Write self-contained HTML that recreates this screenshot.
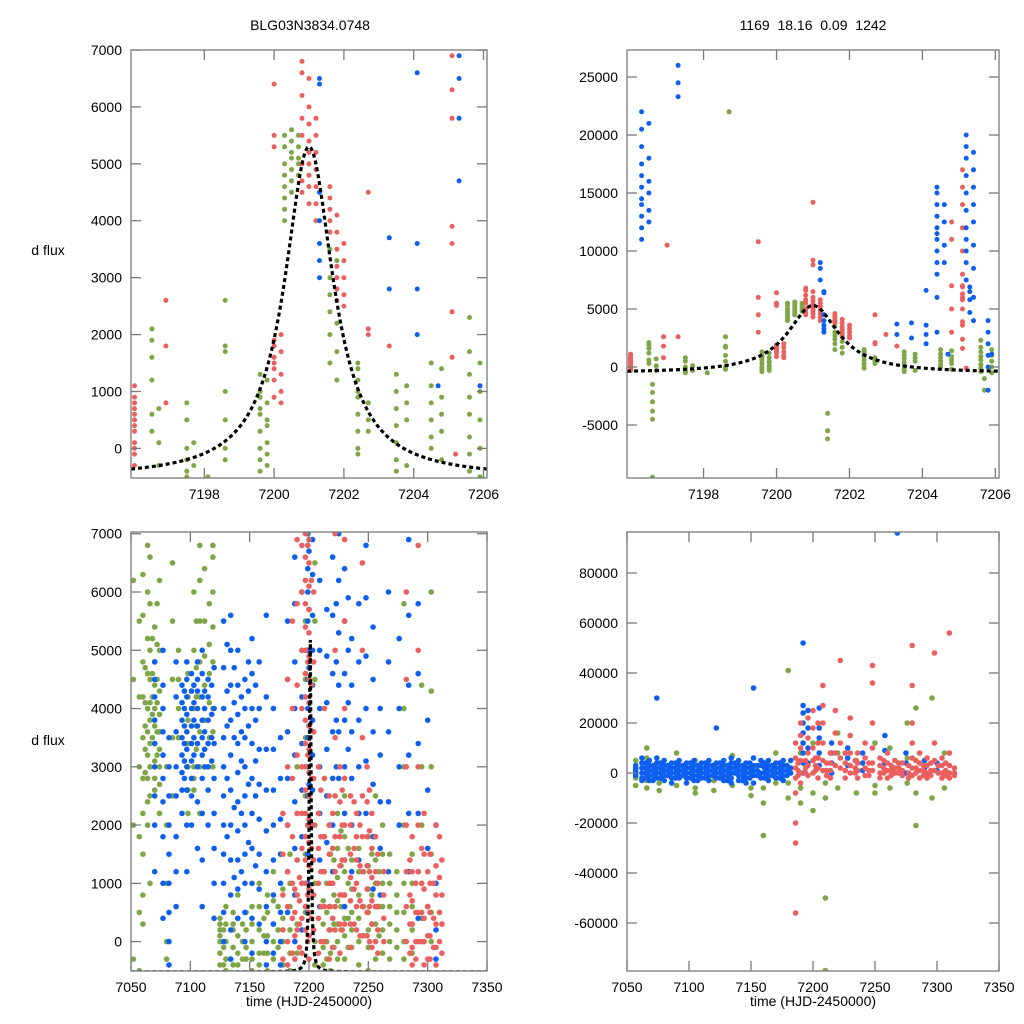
<!DOCTYPE html>
<html><head><meta charset="utf-8"><style>
body{margin:0;background:#fff;}
svg{display:block;font-family:"Liberation Sans",sans-serif;}
</style></head><body>
<svg id="c" width="1024" height="1024" viewBox="0 0 1024 1024">
<text x="310" y="30" text-anchor="middle" font-size="14">BLG03N3834.0748</text>
<text x="813" y="30" text-anchor="middle" font-size="14" xml:space="preserve">1169  18.16  0.09  1242</text>
<text x="48" y="255" text-anchor="middle" font-size="14">d flux</text>
<text x="48" y="745" text-anchor="middle" font-size="14">d flux</text>
<text x="309" y="1006" text-anchor="middle" font-size="14">time (HJD-2450000)</text>
<text x="813" y="1006" text-anchor="middle" font-size="14">time (HJD-2450000)</text>
</svg>
<script>
// ---- data (t:y-values; units per panel) ----
const tlGreen = "7196.5:21 19 16 12 6 3|7196.7:-3 7 1|7197.5:8 5 0 -2 -4 -5|7197.7:-3 1|7198.6:26 18 17 10 5 0 -2|7198.1:-5|7199.6:13 9 6 3 0 -2 -4 10 7|7199.8:12 8 4 -1 -3 1 5|7200.3:40 44 48 50 53 55 46 42|7200.5:47 51 54 56 52 49 45|7200.7:50 53 55 51 48|7201.6:38 35 30 27 24 20 15|7201.8:33 28 22 17 12|7202.4:15 12 9 6 3 0 -1 14 10|7202.7:8 5 3|7203.5:13 10 7 4 1 -2 -4|7203.8:11 8 5 -3|7204.5:15 11 8 5 2 0|7204.8:14 9 6 3 -2|7205.6:23 17 13 9 6 2 -1 -4|7205.9:15 10 5 0 -5";
const tlRed = "7196:11 9 7 5 3 1 -1 -3 0 4 6 8|7196.9:26 18 8|7200:14 16 18 19 15 12 9 64 55 53|7200.2:17 13 10 8 20|7200.8:68 66 62 58 55 50 47 45|7201:65 60 57 54 52 50 48 46 43|7201.2:58 55 52 49 46 43 40|7201.6:46 44 42 40 38|7201.8:41 38 35 32 30 28 26|7202:36 33 30 27 25|7202.7:45 21 20|7203.3:18|7205.1:69 63 58 39 36 24 16|7205.2:-1";
const tlBlue = "7201.3:65 64 45 40 36 33 30|7203.3:37 28|7204.1:66 36 28 20|7204.7:11|7205.3:69 65 58 47|7205.9:11";
const trBlueX = "7196.3:220 205 190 175 165 155 145 140 130 120 110|7196.5:210 180 160 150 135 125|7197.3:275 260 245 233|7201.2:90 85 75|7203.7:38 25|7204.4:155 150 140 130 120 115 110 100 90 80 60 30|7204.6:140 125 105 90|7205.2:200 190 180 165 150 135 120 110 100 90 75|7205.4:185 170 155 140 125 105 85 60 40|7205.8:40 30 20 10 0 -20";
const trRedX = "7197:105|7197.3:26|7199.5:108 60 45 30|7201:142 92 88|7204.8:125 110 70 50 30|7205.1:170 155 140 120 100 80 70 60 50|7203:28";
const trGreenX = "7196.6:-95 -45 -38 -30 -22 -15|7198.7:220|7201.4:-62 -55 -40|7205.7:-20 -10";
const blGreen = "7052:62 45 20 -3|7057:55 42 30 18 5 -5|7060:63 56 48 42 35 28 22 15 8 3|7064:68 60 52 46 40 36 32 28 24 20|7066:66 58 50 45 41 38 34 30 25 10|7070:54 48 44 40 37 34 31 28 26|7074:62 50 43 39 36 33 30 27 22|7080:30 20 10 0 -3|7085:65 55 45 35 25|7090:50 45 40 35|7098:46 42 38 34 30 26 22|7103:60 50 44 40 35 30 28 26|7108:68 62 55 48 42 36 30 22|7112:64 55 49 44 38 33|7119:68 66 60 54 48 40 36 30|7125:4 2 0 -2 -4 1 3|7130:6 3 0 -3 -5|7136:5 2 -1 -4 3|7140:8 4 1 -2 -4|7147:5 2 -1 -3|7152:6 3 0 -3 -5|7158:10 6 2 -2 -4|7165:8 5 1 -2 -5|7170:12 7 3 0 -3|7178:9 4 0 -4|7184:15 10 6 2 -2 -5|7190:30 22 14 8 3 -2|7197:55 45 35 25 15 5|7205:65 55 45 20 10 0 -4|7212:18 12 7 3 -1 -4|7218:20 15 10 6 2 -2 -5|7224:22 16 11 7 3 0 -3|7230:25 18 12 8 4 1 -3|7236:20 14 9 5 2 -1|7242:16 12 8 4 0 -4|7250:18 13 9 5 2 -1 -5|7256:25 18 14 10 6 3 0 -3|7262:20 15 10 6 2 -2|7268:15 10 6 3 0 -3|7274:12 8 5 2 -1|7280:58 40 30 20 10 5 0 -3|7287:15 10 6 2 -2|7295:44 30 20 10 4 0|7303:60 43 30 15 5 0|7062:47 41 37 33 29|7068:52 46 42 39 35|7072:58 51 45 41 36 32|7105:55 47 42 37 33|7116:58 51 46 41 35|7128:2 -1 -4|7144:3 0 -3|7162:4 1 -2|7174:6 2 -1|7215:10 5 0 -3|7221:14 8 3 -1|7227:19 13 6 2|7233:16 10 4 -1|7246:12 6 1|7253:15 8 3|7259:12 6 1";
const blBlue = "7070:48 45 42 38 34 30 25 20 12|7077:50 44 40 36 32 28 24 18 10 4|7082:35 30 25 20 15 10 5 0 -4|7088:48 42 36 30 25 18 12 6|7093:44 41 38 35 32 29 26 22|7097:48 45 42 39 36 33 30 26 20 12|7101:46 43 40 37 34 31 28 25 20|7106:48 45 43 40 37 34 30 24 16|7110:50 46 42 38 35 32 28 22 14 6|7115:45 42 38 34 30 26 20|7120:47 40 34 28 22 16 10 4|7128:55 47 40 35 30 25 20 15 10 5 0|7134:56 50 44 38 32 26 20 14 8 2 -3|7140:50 44 39 34 29 24 19 14 9 4|7146:45 40 35 30 25 20 15 10 5 0|7152:52 46 40 34 28 22 16 10 4 -2|7158:48 40 33 27 21 15 9 3|7164:56 42 33 26 19 12 6 0 -4|7170:40 33 26 20 14 8 3 -2|7176:35 28 21 15 10 5 0 -4|7182:55 45 36 28 20 12 5|7188:66 58 48 40 32 24 16 8 0|7194:60 50 42 34 26 18 10 2|7199:70 68 64 60 55 50 45 40 35 30 25 20 15 10 5|7203:69 63 56 50 44 38 32 26 20|7209:62 50 40 30 22 14 6|7215:57 49 41 33 25 17|7220:66 56 46 36 28 20 12 4|7225:70 62 53 44 36 28|7230:64 55 46 38 30 22 14 6|7236:52 44 36 28 20 12|7242:58 48 38 30 22 14|7248:68 59 49 40 31 22|7254:54 45 36 27 18 9|7260:40 32 24 16 8|7267:60 48 36 24 12|7276:52 40 30 20|7284:69 56 44 32 22 12|7292:58 46 34 22 12 4|7300:38 26 16 6|7307:20 10 2 -3|7095:43 40 37 34 31 28|7103:44 41 38 35 32|7112:43 40 36 33 30|7118:44 39 35 31|7131:51 43 37 28 18|7137:47 41 35 23 11|7143:42 36 31 22 12|7149:48 43 37 27 17|7155:44 38 31 25 13|7200:67 57 47 37 27|7223:58 48 38 30|7233:59 50 41 33";
const blRed = "7178:22 15 8 2 -3|7182:45 30 20 12 6 0 -4|7186:55 40 28 18 10 4 -2|7190:69 58 44 32 22 14 8 2|7194:68 60 50 40 30 22 16 10 4 -2|7197:70 66 62 58 54 50 46 42 38 34 30 26 22 18 14 10 6 2|7200:69 65 61 57 53 49 45 41 37 33 29 25 21 17 13 9 5 1 -3|7204:60 48 36 28 20 14 8 2|7208:30 22 16 10 4 -2|7213:40 28 18 12 6 0|7217:25 20 15 10 6 2 -3|7222:70 50 35 25 18 12 6 2|7226:30 24 18 13 8 3 -2|7230:69 55 40 28 20 14 8 3|7235:25 20 15 11 7 3 -1|7240:22 18 14 10 6 2|7245:65 50 35 25 18 12 6 1|7249:30 24 18 13 9 5 1|7253:22 16 11 7 3 -1|7258:15 10 6 2 -2|7263:12 8 4 0|7282:60 45 30 20 12 6 0|7287:18 12 7 3 -1 -4|7292:68 50 30 20 12 5 0|7297:22 15 9 4 0 -4|7302:15 10 5 1 -3|7307:20 13 8 3 -1 -4|7312:14 8 3 -2|7188:9 5 1 -3|7192:11 7 3 -1|7199:68 48 32 20 8 0|7202:62 44 28 16 4|7210:26 18 12 6 0|7220:22 16 10 4 -1|7228:26 20 14 8 2|7238:24 16 9 3|7243:20 13 7 1|7251:26 19 12 6 0|7256:18 12 6 0|7285:14 8 3 -2|7290:10 5 0 -3|7295:16 10 5 0|7300:12 6 1 -3|7305:10 4 -1|7310:18 11 5 0";
const brBlue = "7057:3 2 1 0 -1|7062:6 4 2 0 -2 -3|7068:5 3 1 -1 -3|7074:30 6 4 2 0 -2|7080:5 3 1 -1 -3|7086:4 2 0 -2 -4|7092:5 3 1 -1 -2|7098:4 2 0 -2 -4|7104:5 3 1 -1 -3|7110:4 2 0 -2|7116:5 3 1 -1 -3|7122:18 4 2 0 -2|7128:5 3 1 -1 -3|7134:6 4 2 0 -2 -4|7140:5 3 1 -1 -3|7146:4 2 0 -2 -4|7152:34 6 3 1 -1 -4|7158:5 3 0 -2|7164:5 3 1 -1 -3|7170:4 2 0 -2|7176:5 3 1 -1 -3|7182:5 2 0|7192:27 24 20 16 12 8 4 0 52|7196:25 18 10 4|7205:18 26 14 8 3|7215:12 8 4 0|7228:10 6 3|7240:8 4 1|7258:15 9 4|7268:96|7275:8 4 0|7290:5 2|7300:4 1|7065:4 2 0 -2|7071:3 1 -1 -3|7077:4 2 0 -2|7083:3 1 -1|7089:4 2 0 -2|7095:3 1 -1|7101:4 2 0 -2|7107:3 1 -1 -3|7113:4 2 0 -2|7119:3 1 -1|7125:4 2 0 -2|7131:3 1 -1 -3|7137:4 2 0|7143:3 1 -1 -3|7149:4 2 0 -2|7155:3 1 -1|7161:4 2 0 -2|7167:3 1 -1|7173:4 2 0 -2|7179:3 1 -1";
const brRed = "7186:12 6 2 -2 -8 -20 -28 -56|7190:20 15 10 5 0 -4|7196:22 14 8 3 -1|7200:25 18 10 5 0|7204:20 12 6 2 -2|7208:35 27 20 12 5 1|7214:8 4 1 -2|7218:25 16 8 3|7222:45 12 6 2|7226:8 4 1 -2|7230:22 15 8 3 0|7236:8 4 1 -2|7242:12 6 2 -1|7248:43 36 20 10 4 1|7254:6 3 0 -2|7260:8 4 1 -2|7266:5 2 0|7272:4 1 -1|7280:51 35 20 12 6 2 -1|7286:8 4 1 -2|7292:6 3 0 -2|7298:48 12 5 1|7304:6 3 0 -2|7310:56 8 3 0 -2|7314:2 0 -1|7188:4 1 -1|7194:5 2 0|7202:6 3 1|7211:4 1 -1|7234:5 2 0|7245:4 1 -1|7257:5 2 0|7263:3 1 -1|7269:4 2 0|7277:3 0 -2|7283:5 2 0|7289:3 1 -1|7295:4 1 -1|7301:3 0|7307:4 1 -1";
const brGreen = "7057:5 2 -2 -5|7066:10 6 -3 -6|7076:4 -4 -7|7090:8 -5|7105:5 -6 -8|7120:-3 -7|7135:7 -5|7150:-6 -9|7160:-25 -12 -6|7170:8 -4|7180:41 -10 -4|7190:-12 -6 8|7200:12 -8 -15|7210:-50 -79 -10 -4|7220:16 8 -6|7235:-8 5|7250:12 -5 -8|7262:10 -6|7276:20 6 -4|7283:-21 26 -8|7296:30 -10|7306:-6 8";
// model fit parameters: t0, peak, baseline, width
const modelParams = [7201.0, 5300, -520, 0.85];
const topTicksX = [7198, 7200, 7202, 7204, 7206];
const topLeftTicksY = [0,1000,2000,3000,4000,5000,6000,7000];
const topRightTicksY = [-5000,0,5000,10000,15000,20000,25000];
const botTicksX = [7050,7100,7150,7200,7250,7300,7350];
const botLeftTicksY = [0,1000,2000,3000,4000,5000,6000,7000];
const botRightTicksY = [-60000,-40000,-20000,0,20000,40000,60000,80000];

const NS="http://www.w3.org/2000/svg";
const svg=document.getElementById('c');
const COL={g:'#7ea646',r:'#ec5f5f',b:'#0d5ff0'};
function parse(s,unit){const out=[];s.split('|').forEach(g=>{const [t,ys]=g.split(':');ys.trim().split(/\s+/).forEach(y=>out.push([+t,+y*unit]));});return out;}
function panel(id,x0,y0,x1,y1,xr,yr,xt,yt,series,curve,rad){
  const sx=t=>x0+(t-xr[0])/(xr[1]-xr[0])*(x1-x0);
  const sy=v=>y1-(v-yr[0])/(yr[1]-yr[0])*(y1-y0);
  const g=document.createElementNS(NS,'g');
  
  
  svg.appendChild(g);
  const cp=document.createElementNS(NS,'clipPath');cp.setAttribute('id','cp-'+id);
  const cr=document.createElementNS(NS,'rect');cr.setAttribute('x',x0);cr.setAttribute('y',y0);cr.setAttribute('width',x1-x0);cr.setAttribute('height',y1-y0);
  cp.appendChild(cr);g.appendChild(cp);
  const pts=document.createElementNS(NS,'g');pts.setAttribute('clip-path','url(#cp-'+id+')');
  
  
  g.appendChild(pts);
  series.forEach(([col,data])=>{data.forEach(([t,v])=>{
    const c=document.createElementNS(NS,'circle');
    
    
    c.setAttribute('cx',sx(t).toFixed(1));c.setAttribute('cy',sy(v).toFixed(1));c.setAttribute('r',rad);c.setAttribute('fill',COL[col]);
    pts.appendChild(c);});});
  if(curve){
    const [t0,A,B,w]=modelParams;let d='';const n=800;
    for(let i=0;i<=n;i++){const t=xr[0]+(xr[1]-xr[0])*i/n;const v=B+(A-B)/(1+((t-t0)/w)**2);d+=(i?'L':'M')+sx(t).toFixed(2)+','+sy(v).toFixed(2);}
    const p=document.createElementNS(NS,'path');
    
    
    p.setAttribute('d',d);p.setAttribute('fill','none');p.setAttribute('stroke','#000');p.setAttribute('stroke-width',3.2);p.setAttribute('stroke-dasharray','4,3');
    pts.appendChild(p);
  }
  const fr=document.createElementNS(NS,'rect');
  
  
  fr.setAttribute('x',x0);fr.setAttribute('y',y0);fr.setAttribute('width',x1-x0);fr.setAttribute('height',y1-y0);fr.setAttribute('fill','none');fr.setAttribute('stroke','#7a7a7a');fr.setAttribute('stroke-width',1.3);
  g.appendChild(fr);
  const line=(a,b,c,d)=>{const l=document.createElementNS(NS,'line');l.setAttribute('x1',a);l.setAttribute('y1',b);l.setAttribute('x2',c);l.setAttribute('y2',d);l.setAttribute('stroke','#7a7a7a');l.setAttribute('stroke-width',1.3);g.appendChild(l);};
  xt.forEach(t=>{const x=sx(t);if(x<x0-1||x>x1+1)return;line(x,y1,x,y1-10);line(x,y0,x,y0+10);
    const tx=document.createElementNS(NS,'text');
    
    
    tx.setAttribute('x',x);tx.setAttribute('y',y1+21);tx.setAttribute('text-anchor','middle');tx.setAttribute('font-size','14');tx.textContent=t;g.appendChild(tx);});
  yt.forEach(v=>{const y=sy(v);if(y<y0-1||y>y1+1)return;line(x0,y,x0+10,y);line(x1,y,x1-10,y);
    const tx=document.createElementNS(NS,'text');
    
    
    tx.setAttribute('x',x0-9);tx.setAttribute('y',y+5);tx.setAttribute('text-anchor','end');tx.setAttribute('font-size','14');tx.textContent=v;g.appendChild(tx);});
}
const tg=parse(tlGreen,100),tr=parse(tlRed,100),tb=parse(tlBlue,100);
panel('panel-top-left',131,50,487,478,[7195.9,7206.1],[-520,7000],topTicksX,topLeftTicksY,[['g',tg],['r',tr],['b',tb]],true,2.5);
panel('panel-top-right',627,50,999,478,[7195.9,7206.1],[-9570,27330],topTicksX,topRightTicksY,[['g',tg.concat(parse(trGreenX,100))],['r',tr.concat(parse(trRedX,100))],['b',tb.concat(parse(trBlueX,100))]],true,2.5);
panel('panel-bottom-left',131,532,487,971,[7050,7350],[-505,7030],botTicksX,botLeftTicksY,[['g',parse(blGreen,100)],['b',parse(blBlue,100)],['r',parse(blRed,100)]],true,2.8);
panel('panel-bottom-right',627,532,999,971,[7050,7350],[-79200,96400],botTicksX,botRightTicksY,[['g',parse(brGreen,1000)],['b',parse(brBlue,1000)],['r',parse(brRed,1000)]],false,2.8);
</script>
</body></html>
